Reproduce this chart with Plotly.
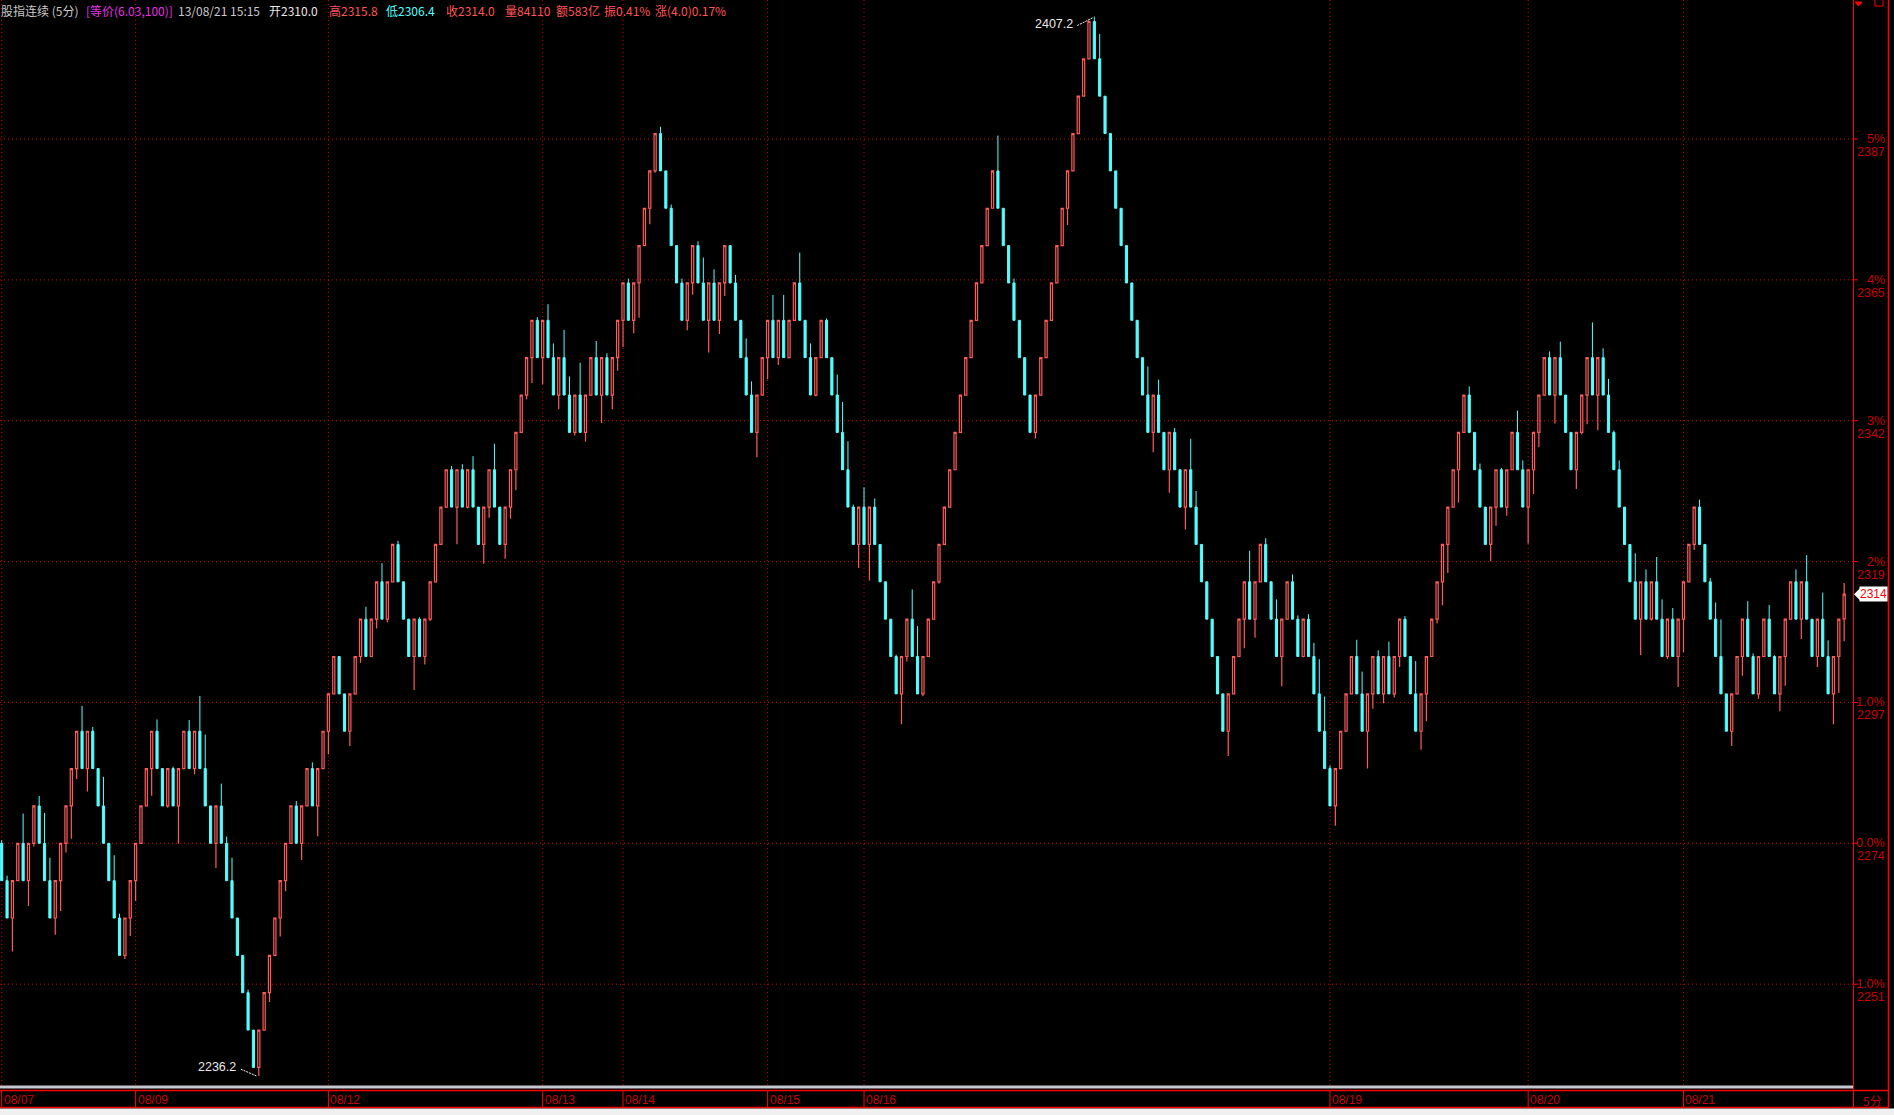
import plotly.graph_objects as go

# ---------------- data ----------------
BASE_PRICE = 2273.78      # 0% reference price
BRICK_SIZE = 6.03

# one letter per brick: U = up brick (red, hollow), D = down brick (cyan, filled)
brick_dirs = (
    "DDUUDUUDDD" "UUUUUDUDDD" "DDDUUUUUUD" "DUDUUDUDDD" "UDDDDDDDUU"
    "UUUUUDUUDU" "UUUDDUUUDU" "UDUUDDDUDU" "UUUUDUDUDD" "UUDDUUUUUU"
    "DUDDUDDUDU" "UDUDUUUDUU" "UUUDDDDDUU" "DDUDUUDDDD" "DUUUDUDUUD"
    "DDUUDDDDDD" "UDUDDDDDUU" "DDUUUUUUUU" "UUUUUUDDDD" "DDDUUUUUUU"
    "UUUUDDDDDD" "DDDDDUDDUD" "DUDDDDDDDU" "UUUDUUDDDU" "UDDUDDDDDU"
    "UUUDDUUDUD" "UUDDDUUUUU" "UUUUDDDDUU" "DUUDDUUUUD" "UDDDUUUDUD"
    "DDDDDDUDUD" "DUDUUUUDDD" "DDDUUUDDUU" "DDUUUDUDDU" "DDUU"
)

# shadow length (points) of each brick: lower shadow for up bricks, upper shadow for down bricks
tails = [
    0.5, 0.8, 5.4, 0, 4.8, 4.1, 0.5, 1.6, 4.9, 3.7,
    2.7, 4.9, 1.5, 5.3, 1.7, 4.1, 3.7, 0.7, 0, 4.7,
    0, 4.1, 0.7, 0.6, 2.9, 3.3, 0, 0, 4.4, 1.9,
    0, 0.3, 0.3, 6.1, 0, 1.8, 0.9, 5.7, 5.5, 0,
    4.0, 3.6, 1.1, 3.7, 0, 0, 0.5, 0, 1.4, 0,
    1.5, 0, 3.0, 1.7, 0, 0.8, 2.7, 0, 1.0, 4.9,
    0, 3.7, 0, 0, 0, 2.4, 0, 1.0, 2.0, 0,
    1.5, 3.0, 0.5, 0, 0.6, 0, 0, 5.4, 0.3, 1.3,
    0.3, 0, 0, 0, 0.6, 6.0, 0.9, 0.2, 2.2, 0,
    3.1, 1.7, 4.2, 0, 2.3, 1.9, 3.3, 0, 0.7, 4.1,
    0.5, 4.3, 2.6, 2.3, 2.3, 4.5, 3.0, 0.5, 5.2, 1.5,
    0, 2.7, 4.5, 0.7, 2.3, 2.1, 4.3, 0.7, 2.1, 5.6,
    0, 2.6, 0.3, 1.1, 0, 0.6, 0, 0.7, 1.6, 1.9,
    0.7, 4.1, 5.2, 2.2, 2.2, 2.1, 0, 1.3, 0, 3.1,
    2.2, 4.0, 0, 3.5, 4.1, 1.2, 4.1, 0, 0, 4.9,
    0, 2.3, 0.2, 0, 0.3, 0, 3.3, 4.9, 4.6, 0.4,
    3.8, 3.2, 5.8, 1.4, 0, 0, 0, 0.3, 4.9, 0.8,
    4.8, 4.9, 0.4, 0, 0, 0.3, 0, 0, 0, 0,
    0, 0, 0, 0, 0, 0, 5.7, 0, 0, 0.7,
    0, 0, 0, 1.0, 0, 0, 0, 0, 0, 2.7,
    0, 0, 0, 0, 0.8, 4.0, 0, 0, 0, 0,
    0, 0, 0, 0, 4.6, 3.2, 2.5, 0, 3.7, 0.7,
    0, 3.6, 5.0, 2.6, 0, 0, 0, 0, 0, 4.0,
    0, 0, 4.7, 5.0, 3.0, 0, 1.0, 0, 3.2, 4.8,
    0, 1.2, 0.6, 0.1, 0.8, 2.2, 5.6, 5.6, 0.5, 3.2,
    0, 0, 0, 2.7, 3.6, 6.0, 2.4, 1.0, 1.5, 2.4,
    0.6, 1.7, 0.5, 0, 5.3, 3.0, 4.4, 0, 0.7, 3.8,
    4.6, 0, 5.3, 0, 1.4, 0, 1.0, 0, 2.7, 3.0,
    0.3, 1.4, 0, 3.5, 1.5, 5.9, 3.9, 2.4, 0, 1.0,
    4.6, 2.6, 0, 0, 3.1, 0.3, 4.7, 5.7, 5.7, 1.5,
    2.6, 0.3, 1.5, 0, 0, 4.6, 5.8, 2.0, 0.2, 4.0,
    3.2, 0.4, 1.8, 4.9, 5.3, 0, 0.9, 1.2, 0, 0.6,
    2.7, 6.0, 0, 2.4, 0, 3.1, 2.9, 0.5, 0.8, 0,
    2.3, 0.2, 2.8, 4.7, 0, 2.0, 3.2, 4.3, 0, 1.7,
    4.3, 2.6, 4.9, 5.9,
]

# current (incomplete) bar
last_open, last_high, last_low, last_close = 2310.0, 2315.8, 2306.4, 2314.0

date_labels = ["08/07", "08/09", "08/12", "08/13", "08/14", "08/15", "08/16", "08/19", "08/20", "08/21"]
date_start_idx = [0, 25, 61, 101, 116, 143, 161, 248, 285, 314]

pct_levels = [5, 4, 3, 2, 1, 0, -1]
pct_labels = ["5%", "4%", "3%", "2%", "1.0%", "0.0%", "-1.0%"]
price_labels = ["2387", "2365", "2342", "2319", "2297", "2274", "2251"]

header_texts = ["股指连续 (5分)", "[等价(6.03,100)]", "13/08/21 15:15",
                "开%.1f" % last_open, "高%.1f" % last_high, "低%.1f" % last_low,
                "收%.1f" % last_close, "量84110", "额583亿", "振0.41%", "涨(4.0)0.17%"]

# ---------------- build bricks ----------------
opens, highs, lows, closes = [], [], [], []
level = 0
for d, t in zip(brick_dirs, tails):
    o = BASE_PRICE + BRICK_SIZE * level
    level += 1 if d == "U" else -1
    c = BASE_PRICE + BRICK_SIZE * level
    if d == "U":
        hi, lo = c, o - t
    else:
        hi, lo = o + t, c
    opens.append(o); closes.append(c); highs.append(hi); lows.append(lo)
opens.append(last_open); highs.append(last_high); lows.append(last_low); closes.append(last_close)
xs = list(range(len(opens)))

# ---------------- geometry ----------------
W, H = 1894, 1115
PLOT_R = 1853          # px right edge of plot area
PLOT_B = 1085          # px bottom of plot area
X0, DX = 1.7, 5.356    # px of first brick, px per brick
Y0 = 843.3             # px of BASE_PRICE
PXPT = 6.195           # px per point

def px_x(px):
    return px / W

def px_y(py):
    return 1 - py / H

x_range = [-X0 / DX, (PLOT_R - X0) / DX]
y_range = [BASE_PRICE - (PLOT_B - Y0) / PXPT, BASE_PRICE + Y0 / PXPT]

RED_UP = "#ff5a5a"
CYAN = "#54ffff"
GRID = "#d00000"
LABEL = "#c80000"

fig = go.Figure()
fig.add_trace(go.Candlestick(
    x=xs, open=opens, high=highs, low=lows, close=closes,
    increasing=dict(line=dict(color=RED_UP, width=1.2), fillcolor="#000000"),
    decreasing=dict(line=dict(color=CYAN, width=1), fillcolor=CYAN),
    whiskerwidth=0, hoverinfo="skip", showlegend=False,
))

shapes = []
annotations = []

# horizontal percent grid + right labels
for p, pl, prl in zip(pct_levels, pct_labels, price_labels):
    yv = BASE_PRICE * (1 + p / 100.0)
    shapes.append(dict(type="line", xref="paper", yref="y", x0=0, x1=px_x(PLOT_R), y0=yv, y1=yv,
                       line=dict(color=GRID, width=1, dash="1px,3px"), layer="below"))
    shapes.append(dict(type="line", xref="paper", yref="y", x0=px_x(PLOT_R), x1=px_x(PLOT_R + 5), y0=yv, y1=yv,
                       line=dict(color="#ff0000", width=1)))
    annotations.append(dict(xref="paper", yref="y", x=px_x(1887), y=yv, xanchor="right", yanchor="middle",
                            text=pl, showarrow=False, font=dict(family="Liberation Sans", size=12.5, color=LABEL)))
    annotations.append(dict(xref="paper", yref="y", x=px_x(1887), y=yv, yshift=-13, xanchor="right", yanchor="middle",
                            text=prl, showarrow=False, font=dict(family="Liberation Sans", size=12.5, color=LABEL)))

# vertical date lines and labels
for lab, idx in zip(date_labels, date_start_idx):
    shapes.append(dict(type="line", xref="x", yref="paper", x0=idx, x1=idx, y0=px_y(PLOT_B), y1=1,
                       line=dict(color=GRID, width=1, dash="1px,3px"), layer="below"))
    shapes.append(dict(type="line", xref="x", yref="paper", x0=idx, x1=idx, y0=px_y(1107), y1=px_y(1090),
                       line=dict(color="#ff0000", width=1)))
    annotations.append(dict(xref="x", yref="paper", x=idx, y=px_y(1100), xanchor="left", yanchor="middle",
                            xshift=0, text=lab, showarrow=False,
                            font=dict(family="Liberation Sans", size=12, color=LABEL)))

# frame lines
shapes += [
    dict(type="rect", xref="paper", yref="paper", x0=0, x1=px_x(PLOT_R), y0=px_y(1088.5), y1=px_y(1085.5),
         line=dict(width=0), fillcolor="#c4c8d0"),
    dict(type="line", xref="paper", yref="paper", x0=0, x1=px_x(1888), y0=px_y(1090.5), y1=px_y(1090.5),
         line=dict(color="#ff0000", width=1.5)),
    dict(type="line", xref="paper", yref="paper", x0=0, x1=px_x(1888), y0=px_y(1107.5), y1=px_y(1107.5),
         line=dict(color="#ff0000", width=1.5)),
    dict(type="line", xref="paper", yref="paper", x0=px_x(PLOT_R + 0.5), x1=px_x(PLOT_R + 0.5), y0=px_y(1107), y1=1,
         line=dict(color="#ff0000", width=1)),
    dict(type="line", xref="paper", yref="paper", x0=px_x(1888.5), x1=px_x(1888.5), y0=px_y(1108), y1=1,
         line=dict(color="#ff0000", width=1.5)),
    dict(type="rect", xref="paper", yref="paper", x0=0, x1=1, y0=0, y1=px_y(1108.5),
         line=dict(width=0), fillcolor="#f0f0f0"),
    # small icons at top right
    dict(type="rect", xref="paper", yref="paper", x0=px_x(1875), x1=px_x(1883), y0=px_y(6), y1=px_y(-2),
         line=dict(color="#ff0000", width=1)),
    dict(type="path", xref="paper", yref="paper",
         path="M %f %f L %f %f L %f %f Z" % (px_x(1855), px_y(2), px_x(1862), px_y(2), px_x(1858.5), px_y(6)),
         line=dict(color="#ff0000", width=1), fillcolor="#ff0000"),
]

# current price marker
arrow_h = 6 / PXPT
shapes.append(dict(type="path", xref="paper", yref="y",
                   path="M %f %f L %f %f L %f %f Z" % (px_x(PLOT_R + 1), last_close,
                                                     px_x(PLOT_R + 7), last_close + arrow_h,
                                                     px_x(PLOT_R + 7), last_close - arrow_h),
                   line=dict(width=0), fillcolor="#ffffff"))
annotations.append(dict(xref="paper", yref="y", x=px_x(1887.5), y=last_close, xanchor="right", yanchor="middle",
                        text="%.0f" % last_close, showarrow=False, bgcolor="#ffffff", borderpad=0,
                        font=dict(family="Liberation Sans", size=12, color="#ff0000")))

# max / min labels
i_max = max(range(len(highs)), key=lambda i: highs[i])
i_min = min(range(len(lows)), key=lambda i: lows[i])
annotations.append(dict(xref="x", yref="y", x=i_max, y=highs[i_max], xanchor="right", yanchor="middle",
                        xshift=-19, yshift=-7, text="%.1f" % highs[i_max], showarrow=False,
                        font=dict(family="Liberation Sans", size=12.5, color="#e8e8e8")))
shapes.append(dict(type="line", xref="x", yref="y", xsizemode="pixel", ysizemode="pixel",
                   xanchor=i_max, yanchor=highs[i_max], x0=-17, x1=-1, y0=-9, y1=-1,
                   line=dict(color="#ffffff", width=1, dash="2px,1px")))
annotations.append(dict(xref="x", yref="y", x=i_min, y=lows[i_min], xanchor="right", yanchor="middle",
                        xshift=-21, yshift=9, text="%.1f" % lows[i_min], showarrow=False,
                        font=dict(family="Liberation Sans", size=12.5, color="#e8e8e8")))
shapes.append(dict(type="line", xref="x", yref="y", xsizemode="pixel", ysizemode="pixel",
                   xanchor=i_min, yanchor=lows[i_min], x0=-18, x1=-2, y0=7, y1=0,
                   line=dict(color="#ffffff", width=1, dash="2px,1px")))

# header
header_colors = ["#c8c8c8", "#e632e6", "#c8c8c8", "#e6e6e6", "#ff5555", "#55ffff",
                 "#ff5555", "#ff5555", "#ff5555", "#ff5555", "#ff5555"]
header_x = [0, 85, 177, 268, 328, 385, 445, 504, 555, 603, 654]
for t, c, hx in zip(header_texts, header_colors, header_x):
    annotations.append(dict(xref="paper", yref="paper", x=px_x(hx), y=px_y(1), xanchor="left", yanchor="top",
                            text=t, showarrow=False, borderpad=0,
                            font=dict(family="Noto Sans CJK SC", size=12, color=c)))

# bottom-right period label
annotations.append(dict(xref="paper", yref="paper", x=px_x(1861), y=px_y(1100), xanchor="left", yanchor="middle",
                        text="5分", showarrow=False,
                        font=dict(family="Noto Sans CJK SC", size=12, color=LABEL)))

fig.update_layout(
    width=W, height=H,
    margin=dict(l=0, r=0, t=0, b=0),
    paper_bgcolor="#000000", plot_bgcolor="#000000",
    boxgap=0.6, boxgroupgap=0,
    hovermode=False, showlegend=False,
    xaxis=dict(domain=[0, px_x(PLOT_R)], range=x_range, showgrid=False, zeroline=False,
               showticklabels=False, ticks="", rangeslider=dict(visible=False), fixedrange=True),
    yaxis=dict(domain=[px_y(PLOT_B), 1], range=y_range, showgrid=False, zeroline=False,
               showticklabels=False, ticks="", fixedrange=True),
    shapes=shapes, annotations=annotations,
)

fig.write_html("out.html", config=dict(displayModeBar=False),
               post_script="document.body.style.margin='0px';document.body.style.overflow='hidden';")
